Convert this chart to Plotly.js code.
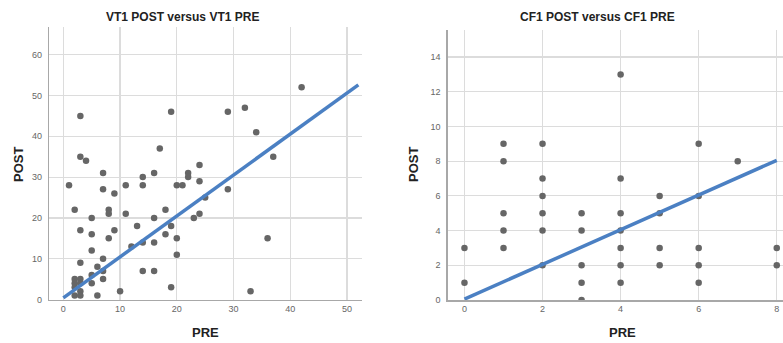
<!DOCTYPE html>
<html><head><meta charset="utf-8">
<script src="https://cdn.plot.ly/plotly-3.0.1.min.js"></script>
<style>html,body{margin:0;padding:0;background:#fff;}#chart{width:783px;height:343px;}</style>
</head><body><div id="chart"></div>
<script>
// VT1 data
const vt1Pre  = [1,2,3,3,4,3,3,5,5,5,5,5,6,6,7,7,7,7,7,8,8,8,9,9,10,11,11,13,12,14,14,14,14,16,16,16,16,17,18,18,19,19,19,20,20,20,21,22,22,23,24,24,24,25,29,29,32,34,33,36,37,42,2,2,2,3,3,2,3,3];
const vt1Post = [28,22,45,35,34,17,9,20,16,12,4,6,8,1,31,27,10,7,5,22,21,15,26,17,2,28,21,18,13,30,28,14,7,31,20,14,7,37,22,16,46,18,3,28,15,11,28,31,30,20,33,29,21,25,46,27,47,41,2,15,35,52,5,4,3,5,4,1,2,1];
const vt1LineX = [0, 52];
const vt1LineY = [0.4, 52.6];
// CF1 data
const cf1Pre  = [0,0,1,1,1,1,1,2,2,2,2,2,2,3,3,3,3,3,4,4,4,4,4,4,4,5,5,5,5,6,6,6,6,6,7,8,8];
const cf1Post = [3,1,9,8,5,4,3,9,7,6,5,4,2,5,4,2,1,0,13,7,5,4,3,2,1,6,5,3,2,9,6,3,2,1,8,3,2];
const cf1LineX = [0, 8];
const cf1LineY = [0.05, 8.05];
// ticks
const vt1XTicks = [0,10,20,30,40,50];
const vt1YTicks = [0,10,20,30,40,50,60];
const cf1XTicks = [0,2,4,6,8];
const cf1YTicks = [0,2,4,6,8,10,12,14];

const dotColor = '#666666';
const lineColor = '#4b80c3';
const font = 'Liberation Sans, Arial, sans-serif';

const traces = [
  {x: vt1Pre, y: vt1Post, mode: 'markers', type: 'scatter', xaxis: 'x', yaxis: 'y',
   marker: {color: dotColor, size: 6.5}},
  {x: vt1LineX, y: vt1LineY, mode: 'lines', type: 'scatter', xaxis: 'x', yaxis: 'y',
   line: {color: lineColor, width: 3.5}},
  {x: cf1Pre, y: cf1Post, mode: 'markers', type: 'scatter', xaxis: 'x2', yaxis: 'y2',
   marker: {color: dotColor, size: 6.5}},
  {x: cf1LineX, y: cf1LineY, mode: 'lines', type: 'scatter', xaxis: 'x2', yaxis: 'y2',
   line: {color: lineColor, width: 3.5}}
];

const axBase = {
  showgrid: true, gridcolor: '#dcdcdc', gridwidth: 1.2,
  zeroline: false, showline: true, linecolor: '#a8a8a8', linewidth: 1.5,
  ticks: '', tickfont: {family: font, size: 9, color: '#666'}, fixedrange: true
};

const layout = {
  width: 783, height: 343,
  margin: {l: 0, r: 0, t: 0, b: 0},
  paper_bgcolor: '#fff', plot_bgcolor: '#fff',
  showlegend: false,
  font: {family: font},
  xaxis: Object.assign({}, axBase, {domain: [0.063, 0.462], range: [-2.47, 52.6],
    tickvals: vt1XTicks, anchor: 'y'}),
  yaxis: Object.assign({}, axBase, {domain: [1 - 299.5/343, 1 - 27/343], range: [0, 66.8],
    tickvals: vt1YTicks, anchor: 'x', ticklabelstandoff: 4}),
  xaxis2: Object.assign({}, axBase, {domain: [0.572, 1.0], range: [-0.425, 8.16],
    tickvals: cf1XTicks, anchor: 'y2'}),
  yaxis2: Object.assign({}, axBase, {domain: [1 - 300/343, 1 - 30/343], range: [0, 15.56],
    tickvals: cf1YTicks, anchor: 'x2', ticklabelstandoff: 4}),
  annotations: [
    {text: '<b>VT1 POST versus VT1 PRE</b>', x: 182/783, y: 1 - 17/343},
    {text: '<b>CF1 POST versus CF1 PRE</b>', x: 597/783, y: 1 - 17/343},
    {text: '<b>POST</b>', x: 18/783, y: 1 - 165/343, textangle: -90, size: 13},
    {text: '<b>POST</b>', x: 413/783, y: 1 - 165/343, textangle: -90, size: 13},
    {text: '<b>PRE</b>', x: 205/783, y: 1 - 332/343, size: 13},
    {text: '<b>PRE</b>', x: 622/783, y: 1 - 332/343, size: 13}
  ].map(a => ({text: a.text, x: a.x, y: a.y, xref: 'paper', yref: 'paper',
     xanchor: 'center', yanchor: 'middle', textangle: a.textangle || 0, showarrow: false,
     font: {family: font, size: a.size || 12, color: '#222'}}))
};

Plotly.newPlot('chart', traces, layout, {displayModeBar: false, staticPlot: true});
</script></body></html>
